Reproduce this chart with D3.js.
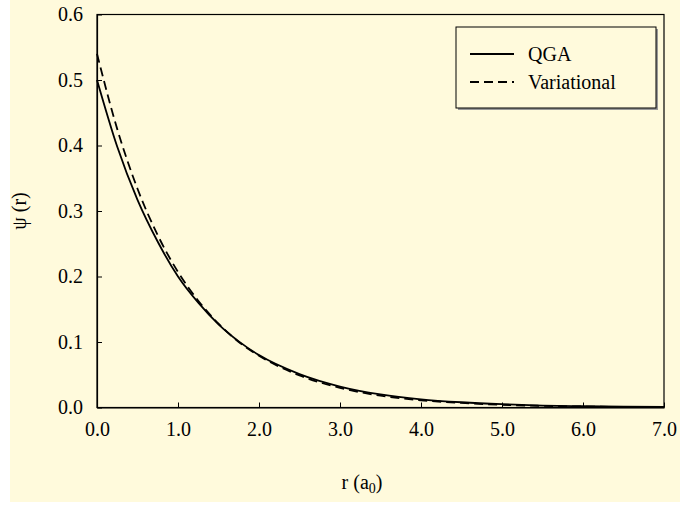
<!DOCTYPE html>
<html>
<head>
<meta charset="utf-8">
<script src="https://cdn.jsdelivr.net/npm/d3@7"></script>
<style>
  html, body { margin: 0; padding: 0; background: #ffffff; }
  svg { display: block; }
</style>
</head>
<body>
<svg id="chart" width="680" height="507"></svg>
<script>
// radius in Bohr radii
const radii = [0, 0.25, 0.5, 0.75, 1, 1.25, 1.5, 1.75, 2, 2.5, 3, 3.5, 4, 4.5, 5, 5.5, 6, 6.5, 7];
// wave function values
const qgaValues = [0.500, 0.398, 0.317, 0.253, 0.200, 0.160, 0.127, 0.101, 0.080, 0.051, 0.032, 0.020, 0.0125, 0.008, 0.005, 0.003, 0.002, 0.0012, 0.0008];
const variationalValues = [0.540, 0.425, 0.334, 0.263, 0.207, 0.163, 0.128, 0.100, 0.079, 0.049, 0.030, 0.018, 0.011, 0.007, 0.004, 0.0025, 0.0015, 0.0009, 0.0005];
const xTicks = [0, 1, 2, 3, 4, 5, 6, 7];
const yTicks = [0, 0.1, 0.2, 0.3, 0.4, 0.5, 0.6];
const seriesNames = ['QGA', 'Variational'];

const width = 680, height = 507;
const plot = { left: 97, right: 664, top: 14.5, bottom: 407.5 };
const font = '"Liberation Serif", "Times New Roman", serif';
const fontSize = '20px';
const cream = '#fffadc';

const svg = d3.select('#chart');

// outer chart area
svg.append('rect')
  .attr('x', 10).attr('y', 0)
  .attr('width', width - 10).attr('height', 502)
  .attr('fill', cream);

const x = d3.scaleLinear().domain([0, 7]).range([plot.left, plot.right]);
const y = d3.scaleLinear().domain([0, 0.6]).range([plot.bottom, plot.top]);

// plot frame
svg.append('rect')
  .attr('x', plot.left).attr('y', plot.top)
  .attr('width', plot.right - plot.left).attr('height', plot.bottom - plot.top)
  .attr('fill', cream)
  .attr('stroke', '#000')
  .attr('stroke-width', 1.2);

// axes, ticks point inward
const xAxis = svg.append('g')
  .attr('transform', `translate(0,${plot.bottom})`)
  .call(d3.axisBottom(x).tickValues(xTicks).tickFormat(d3.format('.1f'))
    .tickSizeInner(-5).tickSizeOuter(0).tickPadding(14));

const yAxis = svg.append('g')
  .attr('transform', `translate(${plot.left},0)`)
  .call(d3.axisLeft(y).tickValues(yTicks).tickFormat(d3.format('.1f'))
    .tickSizeInner(-5).tickSizeOuter(0).tickPadding(14));

[xAxis, yAxis].forEach(g => {
  g.select('.domain').attr('stroke', '#000').attr('stroke-width', 1.2);
  g.selectAll('.tick line').attr('stroke', '#000');
  g.selectAll('.tick text')
    .attr('fill', '#000')
    .style('font-family', font)
    .style('font-size', fontSize);
});

// curves
const toPoints = vals => radii.map((r, i) => ({ r, v: vals[i] }));
const line = d3.line()
  .x(d => x(d.r))
  .y(d => y(d.v))
  .curve(d3.curveMonotoneX);

svg.append('path')
  .datum(toPoints(qgaValues))
  .attr('fill', 'none')
  .attr('stroke', '#000')
  .attr('stroke-width', 1.8)
  .attr('d', line);

svg.append('path')
  .datum(toPoints(variationalValues))
  .attr('fill', 'none')
  .attr('stroke', '#000')
  .attr('stroke-width', 1.8)
  .attr('stroke-dasharray', '9,5')
  .attr('d', line);

// axis titles
svg.append('text')
  .attr('x', 362).attr('y', 489)
  .attr('text-anchor', 'middle')
  .style('font-family', font)
  .style('font-size', fontSize)
  .html('r (a<tspan baseline-shift="-25%" font-size="14px">0</tspan>)');

svg.append('text')
  .attr('transform', `translate(26,${(plot.top + plot.bottom) / 2}) rotate(-90)`)
  .attr('text-anchor', 'middle')
  .style('font-family', font)
  .style('font-size', fontSize)
  .text('ψ (r)');

// legend
const legend = { x: 456, y: 27, w: 200, h: 81 };
svg.append('rect')
  .attr('x', legend.x + 2).attr('y', legend.y + 2)
  .attr('width', legend.w).attr('height', legend.h)
  .attr('fill', '#999');
svg.append('rect')
  .attr('x', legend.x).attr('y', legend.y)
  .attr('width', legend.w).attr('height', legend.h)
  .attr('fill', cream)
  .attr('stroke', '#000')
  .attr('stroke-width', 1);

const legendItems = svg.append('g')
  .selectAll('g')
  .data(seriesNames)
  .join('g')
  .attr('transform', (d, i) => `translate(${legend.x},${legend.y + 27 + i * 28})`);

legendItems.append('line')
  .attr('x1', 14).attr('x2', 58)
  .attr('y1', 0).attr('y2', 0)
  .attr('stroke', '#000')
  .attr('stroke-width', 1.8)
  .attr('stroke-dasharray', (d, i) => i === 1 ? '9,5' : null);

legendItems.append('text')
  .attr('x', 72).attr('y', 7)
  .style('font-family', font)
  .style('font-size', fontSize)
  .text(d => d);
</script>
</body>
</html>
